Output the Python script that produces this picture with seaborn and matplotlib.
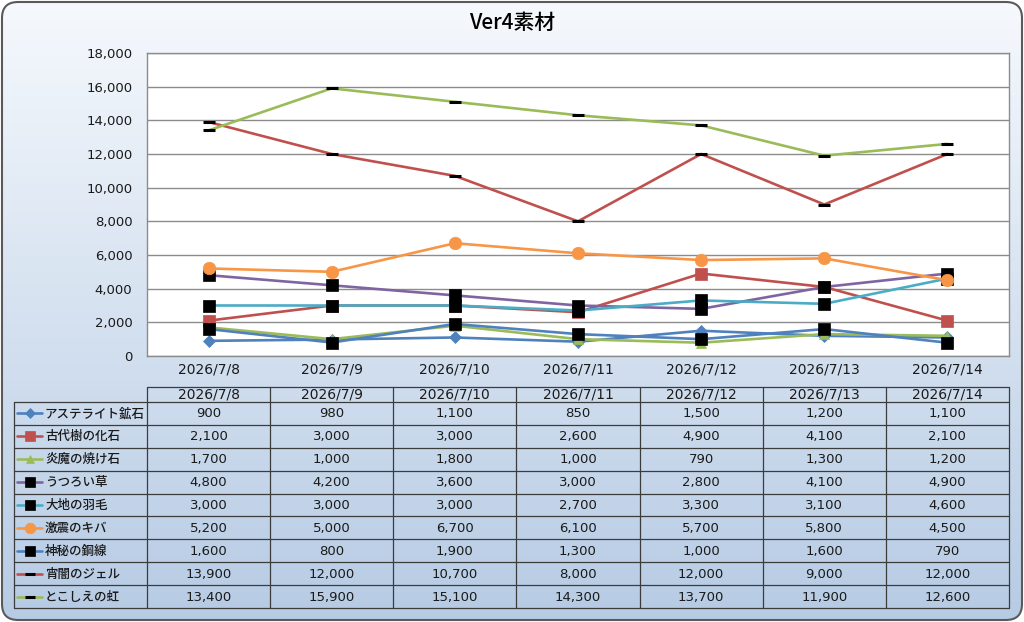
import numpy as np
import pandas as pd
import matplotlib
matplotlib.use("Agg")
import matplotlib.pyplot as plt
from matplotlib.patches import FancyBboxPatch
from matplotlib.lines import Line2D
import seaborn as sns

sns.set_style("white")
plt.rcParams['font.family'] = ['DejaVu Sans', 'Noto Sans CJK JP']
JP = ['Noto Sans CJK JP', 'DejaVu Sans']
NUM = ['DejaVu Sans', 'Noto Sans CJK JP']

# ---------------- data ----------------
title = "Ver4素材"
dates = ["2026/7/8", "2026/7/9", "2026/7/10", "2026/7/11", "2026/7/12", "2026/7/13", "2026/7/14"]
series_names = ["アステライト鉱石", "古代樹の化石", "炎魔の焼け石", "うつろい草", "大地の羽毛",
                "激震のキバ", "神秘の鋼線", "宵闇のジェル", "とこしえの虹"]
asterite = [900, 980, 1100, 850, 1500, 1200, 1100]
kodaiju = [2100, 3000, 3000, 2600, 4900, 4100, 2100]
enma = [1700, 1000, 1800, 1000, 790, 1300, 1200]
utsuroi = [4800, 4200, 3600, 3000, 2800, 4100, 4900]
daichi = [3000, 3000, 3000, 2700, 3300, 3100, 4600]
gekishin = [5200, 5000, 6700, 6100, 5700, 5800, 4500]
shinpi = [1600, 800, 1900, 1300, 1000, 1600, 790]
yoiyami = [13900, 12000, 10700, 8000, 12000, 9000, 12000]
tokoshie = [13400, 15900, 15100, 14300, 13700, 11900, 12600]
values = [asterite, kodaiju, enma, utsuroi, daichi, gekishin, shinpi, yoiyami, tokoshie]
y_ticks = [0, 2000, 4000, 6000, 8000, 10000, 12000, 14000, 16000, 18000]

# ---------------- styles ----------------
colors = ["#4F81BD", "#C0504D", "#9BBB59", "#8064A2", "#4BACC6", "#F79646",
          "#4F81BD", "#C0504D", "#9BBB59"]
markers = ["D", "s", "^", "s", "s", "o", "s", "_", "_"]
mfc = ["#4F81BD", "#C0504D", "#9BBB59", "black", "black", "#F79646", "black", "black", "black"]
msize = [6, 8, 7, 8.5, 8.5, 9, 8.5, 8, 8]
mew = [0.5, 0.5, 0.5, 0.5, 0.5, 0.5, 0.5, 2.2, 2.2]
txt = "#1a1a1a"

W, H = 1024, 622
fig = plt.figure(figsize=(W / 100, H / 100), dpi=100)
fig.patch.set_facecolor("white")

# background gradient with rounded border
bg = fig.add_axes([0, 0, 1, 1], zorder=0)
bg.set_xlim(0, W)
bg.set_ylim(H, 0)
bg.axis("off")
top = np.array([0xf6, 0xf9, 0xfd]) / 255
bot = np.array([0xb6, 0xcb, 0xe4]) / 255
t = np.linspace(0, 1, 256)[:, None]
grad = (top[None, :] * (1 - t) + bot[None, :] * t)[:, None, :]
im = bg.imshow(grad, extent=[0, W, H, 0], aspect="auto", zorder=0)
box = FancyBboxPatch((2, 2), W - 4, H - 4, boxstyle="round,pad=0,rounding_size=16",
                     facecolor="none", edgecolor="#5a5a5a", linewidth=1.5, zorder=2)
bg.add_patch(box)
im.set_clip_path(box)

# plot area
L, R, T, B = 147, 1009, 53, 356
ax = fig.add_axes([L / W, 1 - B / H, (R - L) / W, (B - T) / H], zorder=2)
ax.set_facecolor("white")
x = np.arange(len(dates))
for i, (name, vals) in enumerate(zip(series_names, values)):
    df = pd.DataFrame({"date": x, "value": vals})
    sns.lineplot(data=df, x="date", y="value", ax=ax, color=colors[i], linewidth=1.9,
                 marker=markers[i], markersize=msize[i], markerfacecolor=mfc[i],
                 markeredgecolor=mfc[i], markeredgewidth=mew[i], zorder=3 + i)
ax.set_xlim(-0.5, len(dates) - 0.5)
ax.set_ylim(0, 18000)
ax.set_yticks(y_ticks)
ax.set_yticklabels([f"{v:,}" for v in y_ticks], fontsize=9.5, family=NUM)
ax.set_xticks(x)
ax.set_xticklabels(dates, fontsize=10, family=NUM)
ax.tick_params(axis="both", length=0, colors=txt)
ax.tick_params(axis="x", pad=5)
ax.tick_params(axis="y", pad=10.5)
ax.yaxis.grid(True, color="#8c8c8c", linewidth=1.0)
ax.xaxis.grid(False)
ax.set_axisbelow(True)
for s in ax.spines.values():
    s.set_color("#8c8c8c")
    s.set_linewidth(1.0)
ax.set_xlabel("")
ax.set_ylabel("")

fig.text(0.5, 1 - 23 / H, title, ha="center", va="center", fontsize=15,
         family=JP, fontweight="medium", color="black")

# data table
tb = fig.add_axes([0, 0, 1, 1], zorder=3)
tb.set_xlim(0, W)
tb.set_ylim(H, 0)
tb.axis("off")
tb.patch.set_alpha(0)
TL = 14
hy0, hy1 = 387, 402
ybot = 608
ncol = len(dates)
colw = (R - L) / ncol
rowh = (ybot - hy1) / len(series_names)
lc = "#3c3c3c"
lw = 0.9
tb.plot([L, R], [hy0, hy0], color=lc, lw=lw)
for r in range(len(series_names) + 1):
    yy = hy1 + r * rowh
    tb.plot([TL, R], [yy, yy], color=lc, lw=lw)
tb.plot([TL, TL], [hy1, ybot], color=lc, lw=lw)
for c in range(ncol + 1):
    xx = L + c * colw
    tb.plot([xx, xx], [hy0, ybot], color=lc, lw=lw)
for c, d in enumerate(dates):
    tb.text(L + (c + 0.5) * colw, (hy0 + hy1) / 2 + 0.5, d, ha="center", va="center",
            fontsize=10, family=NUM, color=txt)
for r, (name, vals) in enumerate(zip(series_names, values)):
    yc = hy1 + (r + 0.5) * rowh
    tb.add_line(Line2D([17, 42], [yc, yc], color=colors[r], lw=1.9))
    tb.add_line(Line2D([30], [yc], marker=markers[r], markersize=msize[r] * 0.85,
                       markerfacecolor=mfc[r], markeredgecolor=mfc[r],
                       markeredgewidth=mew[r], linestyle="none"))
    tb.text(45, yc + 0.5, name, ha="left", va="center", fontsize=9, family=JP,
            fontweight="medium", color=txt)
    for c, v in enumerate(vals):
        tb.text(L + (c + 0.5) * colw, yc + 0.5, f"{v:,}", ha="center", va="center",
                fontsize=9.5, family=NUM, color=txt)

fig.savefig("out.png", dpi=100)
